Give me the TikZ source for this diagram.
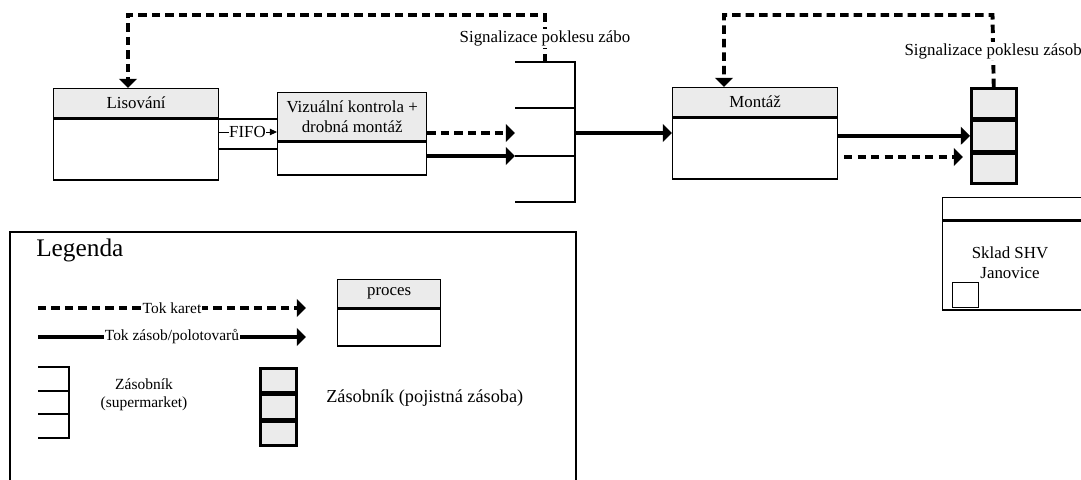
\documentclass[tikz,border=0pt]{standalone}
\usepackage{fontspec}
\setmainfont{Liberation Serif}
\usetikzlibrary{arrows.meta}
\definecolor{hdrgray}{RGB}{235,235,235}

\tikzset{
  hdr/.style={draw, fill=hdrgray, line width=0.9pt, inner sep=0pt, align=center, anchor=north west},
  bodybox/.style={draw, line width=0.9pt, inner sep=0pt, anchor=north west},
  pscell/.style={draw, fill=hdrgray, line width=1.8pt, inner sep=0pt, anchor=north west},
  rack/.style={line width=1.8pt},
  rail/.style={line width=1.4pt},
  flow/.style={line width=2.6pt, -{Triangle[length=6.5pt,width=12.5pt]}},
  kanban/.style={line width=2.8pt, dash pattern=on 6pt off 3.6pt, -{Triangle[length=6.5pt,width=12.5pt]}},
  fifoline/.style={line width=0.7pt, -{Triangle[length=5pt,width=4.5pt]}},
  sig/.style={fill=white, inner sep=1pt},
  lbl/.style={fill=white, inner sep=0.6pt, font=\fontsize{11}{13}\selectfont}
}

\begin{document}
\begin{tikzpicture}[x=0.025cm,y=-0.025cm,font=\fontsize{12}{14.2}\selectfont]
\useasboundingbox (0,0) rectangle (1081,480);

\draw[line width=0.8pt] (10,232) rectangle (576,500);

\node[hdr,minimum width=4.125cm,minimum height=0.725cm] (lis) at (53,88) {Lisování};
\node[bodybox,minimum width=4.125cm,minimum height=1.525cm] (lisb) at (lis.south west) {};
\node[hdr,minimum width=3.725cm,minimum height=1.2cm] (viz) at (277,92) {Vizuální kontrola +\\drobná montáž};
\node[bodybox,minimum width=3.725cm,minimum height=0.825cm] (vizb) at (viz.south west) {};
\node[hdr,minimum width=4.125cm,minimum height=0.725cm] (mont) at (672,87) {Montáž};
\node[bodybox,minimum width=4.125cm,minimum height=1.525cm] (montb) at (mont.south west) {};
\node[pscell,minimum width=1.125cm,minimum height=0.75cm] (ps1) at (970,87) {};
\node[pscell,minimum width=1.125cm,minimum height=0.75cm] (ps2) at (ps1.south west) {};
\node[pscell,minimum width=1.125cm,minimum height=0.75cm] (ps3) at (ps2.south west) {};

\draw[rack] (515,62) -- (575,62) -- (575,202) -- (515,202);
\draw[rack] (515,108) -- (575,108);
\draw[rack] (515,156) -- (575,156);
\coordinate (sm) at (545,62);
\coordinate (smout) at (575,133);
\coordinate (smin1) at (515,133);
\coordinate (smin2) at (515,156);

\coordinate (r1) at (218,119);
\coordinate (r2) at (218,149);
\coordinate (f1) at (218,132);
\draw[rail] (r1) -- (r1 -| viz.west);
\draw[rail] (r2) -- (r2 -| viz.west);
\draw[fifoline] (f1) -- node[fill=white,inner sep=0.5pt]{FIFO} (f1 -| viz.west);

\draw[kanban] (viz.east |- smin1) -- (smin1);
\draw[flow] (vizb.east |- smin2) -- (smin2);
\draw[flow] (smout) -- (montb.west |- smout);
\draw[flow] (montb.east |- ps2.west) -- (ps2.west);
\coordinate (d1) at (844,157);
\coordinate (d2) at (963,157);
\draw[kanban] (d1) -- (d2);

\coordinate (k1) at (545,15);
\coordinate (k2) at (128,15);
\draw[kanban] (sm) -- node[sig]{Signalizace poklesu zábo} (k1) -- (k2) -- (lis.north -| k2);
\coordinate (k3) at (992.5,15);
\coordinate (k4) at (724,15);
\draw[kanban] (ps1.north) -- node[sig]{Signalizace poklesu zásob} (k3) -- (k4) -- (mont.north -| k4);

\node[bodybox,minimum width=3.75cm,minimum height=0.55cm] (skl) at (942,197) {};
\node[bodybox,minimum width=3.75cm,minimum height=2.225cm] (sklb) at (skl.south west) {};
\node[bodybox,minimum width=0.65cm,minimum height=0.625cm,anchor=south west] (sq) at (952,308) {};
\node[align=center] (skltxt) at (1010,263) {Sklad SHV\\Janovice};

\node[anchor=west,inner sep=0pt,font=\fontsize{18}{21}\selectfont] (leg) at (36,250) {Legenda};
\coordinate (l1) at (38,308);
\coordinate (l2) at (306,308);
\draw[kanban] (l1) -- node[lbl]{Tok karet} (l2);
\coordinate (l3) at (38,337);
\coordinate (l4) at (306,337);
\draw[flow] (l3) -- node[lbl]{Tok zásob/polotovarů} (l4);
\node[hdr,minimum width=2.575cm,minimum height=0.7cm] (proc) at (337,279) {proces};
\node[bodybox,minimum width=2.575cm,minimum height=0.925cm] (procb) at (proc.south west) {};

\draw[rack] (38,367) -- (69,367) -- (69,438) -- (38,438);
\draw[rack] (38,391) -- (69,391);
\draw[rack] (38,414) -- (69,414);
\node[align=center,font=\fontsize{11}{12.5}\selectfont] (smtxt) at (144,395) {Zásobník\\(supermarket)};
\node[pscell,minimum width=0.9cm,minimum height=0.6cm] (lps1) at (259,367) {};
\node[pscell,minimum width=0.9cm,minimum height=0.6cm] (lps2) at (lps1.south west) {};
\node[pscell,minimum width=0.9cm,minimum height=0.6cm] (lps3) at (lps2.south west) {};
\node[anchor=west,inner sep=0pt,font=\fontsize{13}{15}\selectfont] (pstxt) at (326,398) {Zásobník (pojistná zásoba)};
\end{tikzpicture}
\end{document}
